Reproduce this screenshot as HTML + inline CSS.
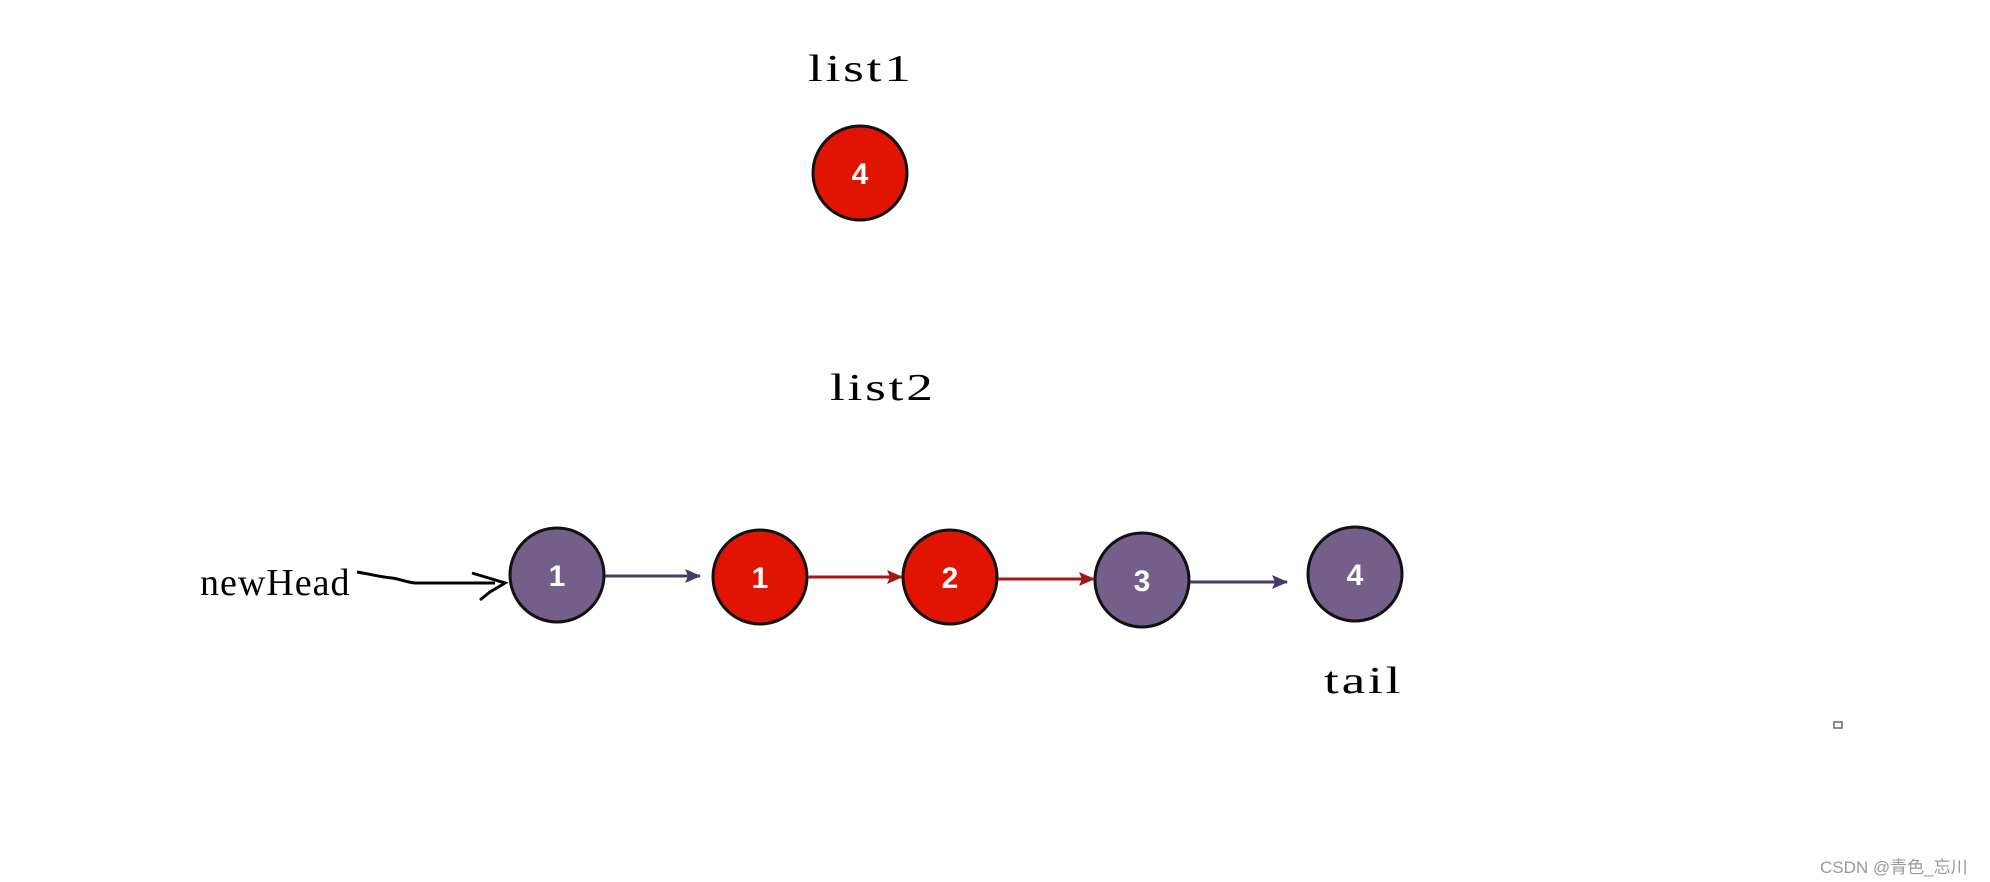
<!DOCTYPE html>
<html><head><meta charset="utf-8"><style>
html,body{margin:0;padding:0;background:#fff;}
body{width:1990px;height:882px;position:relative;overflow:hidden;}
.t{position:absolute;font-family:"Liberation Serif","Noto Serif CJK SC",serif;font-size:38px;color:#000;line-height:1;white-space:nowrap;letter-spacing:2px;transform-origin:0 0;}
</style></head><body>
<svg width="1990" height="882" style="position:absolute;left:0;top:0">
<defs>
<marker id="ap" markerWidth="16" markerHeight="14" refX="15" refY="7" orient="auto" markerUnits="userSpaceOnUse"><path d="M0,0 L16,7 L0,14 L3,7 Z" fill="#4a3a66"/></marker>
<marker id="ar" markerWidth="16" markerHeight="14" refX="15" refY="7" orient="auto" markerUnits="userSpaceOnUse"><path d="M0,0 L16,7 L0,14 L3,7 Z" fill="#a01818"/></marker>
</defs>
<g font-family="Liberation Sans, sans-serif" font-weight="bold" font-size="30" fill="#fff" text-anchor="middle">
<circle cx="860" cy="173" r="47" fill="#e01400" stroke="#111" stroke-width="3"/><text x="860" y="184">4</text>
<circle cx="557" cy="575" r="47" fill="#735f8a" stroke="#111" stroke-width="3"/><text x="557" y="586">1</text>
<circle cx="760" cy="577" r="47" fill="#e01400" stroke="#111" stroke-width="3"/><text x="760" y="588">1</text>
<circle cx="950" cy="577" r="47" fill="#e01400" stroke="#111" stroke-width="3"/><text x="950" y="588">2</text>
<circle cx="1142" cy="580" r="47" fill="#735f8a" stroke="#111" stroke-width="3"/><text x="1142" y="591">3</text>
<circle cx="1355" cy="574" r="47" fill="#735f8a" stroke="#111" stroke-width="3"/><text x="1355" y="585">4</text>
</g>
<line x1="605" y1="576" x2="700" y2="576" stroke="#4a3a66" stroke-width="3" marker-end="url(#ap)"/>
<line x1="808" y1="577" x2="902" y2="577" stroke="#a01818" stroke-width="3" marker-end="url(#ar)"/>
<line x1="998" y1="579" x2="1094" y2="579" stroke="#a01818" stroke-width="3" marker-end="url(#ar)"/>
<line x1="1190" y1="582" x2="1287" y2="582" stroke="#4a3a66" stroke-width="3" marker-end="url(#ap)"/>
<path d="M357,572 C370,574 380,577 392,578 C400,579 405,582 415,583 L495,583" fill="none" stroke="#000" stroke-width="3"/>
<path d="M472,573 L505,583 L490,592 L480,600" fill="none" stroke="#000" stroke-width="3"/>
<rect x="1834" y="722" width="8" height="6" fill="none" stroke="#666" stroke-width="1.5"/>
</svg>
<div class="t" style="left:808px;top:50px;transform:scaleX(1.4)">list1</div>
<div class="t" style="left:830px;top:369px;transform:scaleX(1.4)">list2</div>
<div class="t" style="left:200px;top:564px;letter-spacing:1px">newHead</div>
<div class="t" style="left:1324px;top:662px;transform:scaleX(1.4)">tail</div>
<div style="position:absolute;left:1820px;top:853px;font-family:'Liberation Sans','Noto Sans CJK SC',sans-serif;font-size:17px;color:#999;white-space:nowrap">CSDN @青色_忘川</div>
</body></html>
